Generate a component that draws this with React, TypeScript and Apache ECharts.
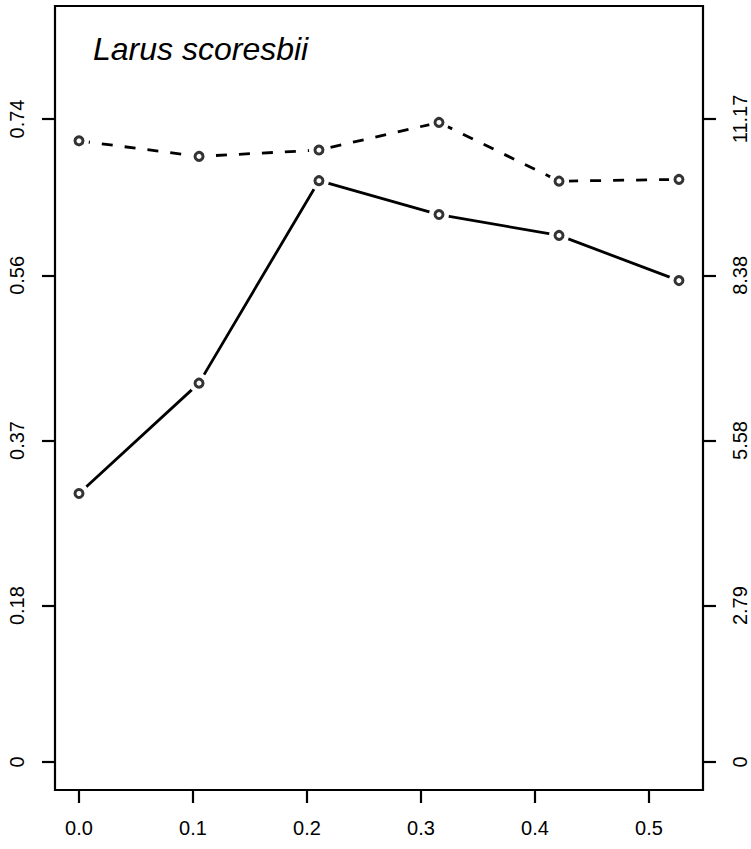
import React, { useEffect, useRef } from "react";
import * as echarts from "echarts";

const xValues = [0, 0.1053, 0.2105, 0.3158, 0.4211, 0.5263];
const solidValues = [0.309, 0.436, 0.669, 0.63, 0.606, 0.554];
const dashedValues = [10.79, 10.52, 10.63, 11.11, 10.09, 10.12];
const xTickValues = [0, 0.1, 0.2, 0.3, 0.4, 0.5];
const leftTickValues = [0, 0.18, 0.37, 0.56, 0.74];
const leftTickLabels = ["0", "0.18", "0.37", "0.56", "0.74"];
const rightTickLabels = ["0", "2.79", "5.58", "8.38", "11.17"];
const titleText = "Larus scoresbii";

const FONT = "Liberation Sans, Arial, Helvetica, sans-serif";
const K = 11.17 / 0.74;
const Y_MIN = -0.0322;
const Y_MAX = 0.87;
const rightTickValues = leftTickValues.map((v) => v * K);

function nearestLabel(v: number, vals: number[], labels: string[]) {
  let best = 0;
  for (let i = 1; i < vals.length; i++) {
    if (Math.abs(vals[i] - v) < Math.abs(vals[best] - v)) best = i;
  }
  return labels[best];
}

export default function App() {
  const ref = useRef<HTMLDivElement>(null);
  useEffect(() => {
    if (!ref.current) return;
    const chart = echarts.init(ref.current, null, { renderer: "svg" });
    const solidData = xValues.map((x, i) => [x, solidValues[i]]);
    const dashedData = xValues.map((x, i) => [x, dashedValues[i]]);
    const lineCommon = {
      type: "line",
      symbol: "circle",
      symbolSize: 20,
      showSymbol: true,
      itemStyle: { color: "#fff", borderWidth: 0 },
      silent: true,
      z: 2,
    };
    const ringCommon = {
      type: "scatter",
      symbol: "circle",
      symbolSize: 8,
      itemStyle: { color: "#fff", borderColor: "#000", borderWidth: 3 },
      silent: true,
      z: 3,
    };
    chart.setOption({
      animation: false,
      backgroundColor: "#fff",
      title: {
        text: titleText,
        left: 88,
        top: 28,
        textStyle: {
          fontFamily: FONT,
          fontStyle: "italic",
          fontWeight: "normal",
          fontSize: 32,
          color: "#000",
        },
      },
      grid: {
        left: 55,
        top: 6,
        right: 48,
        bottom: 59,
        show: true,
        borderColor: "#000",
        borderWidth: 2.2,
        backgroundColor: "transparent",
      },
      xAxis: {
        type: "value",
        min: -0.02105,
        max: 0.5474,
        axisLine: { show: false, onZero: false },
        splitLine: { show: false },
        axisTick: {
          show: true,
          length: 13,
          customValues: xTickValues,
          lineStyle: { color: "#000", width: 2.2 },
        },
        axisLabel: {
          customValues: xTickValues,
          formatter: (v: number) => v.toFixed(1),
          margin: 28,
          fontSize: 20,
          fontFamily: FONT,
          color: "#000",
        },
      },
      yAxis: [
        {
          type: "value",
          position: "left",
          min: Y_MIN,
          max: Y_MAX,
          axisLine: { show: false, onZero: false },
          splitLine: { show: false },
          axisTick: {
            show: true,
            length: 13,
            customValues: leftTickValues,
            lineStyle: { color: "#000", width: 2.2 },
          },
          axisLabel: {
            customValues: leftTickValues,
            rotate: 90,
            formatter: (v: number) => nearestLabel(v, leftTickValues, leftTickLabels),
            margin: 28,
            fontSize: 20,
            fontFamily: FONT,
            color: "#000",
          },
        },
        {
          type: "value",
          position: "right",
          min: Y_MIN * K,
          max: Y_MAX * K,
          axisLine: { show: false, onZero: false },
          splitLine: { show: false },
          axisTick: {
            show: true,
            length: 13,
            customValues: rightTickValues,
            lineStyle: { color: "#000", width: 2.2 },
          },
          axisLabel: {
            customValues: rightTickValues,
            rotate: 90,
            formatter: (v: number) => nearestLabel(v, rightTickValues, rightTickLabels),
            margin: 27,
            fontSize: 20,
            fontFamily: FONT,
            color: "#000",
          },
        },
      ],
      series: [
        {
          ...lineCommon,
          name: "solid",
          yAxisIndex: 0,
          data: solidData,
          lineStyle: { color: "#000", width: 2.8, type: "solid" },
        },
        {
          ...lineCommon,
          name: "dashed",
          yAxisIndex: 1,
          data: dashedData,
          lineStyle: { color: "#000", width: 2.8, type: [11, 12] },
        },
        { ...ringCommon, name: "solidPts", yAxisIndex: 0, data: solidData },
        { ...ringCommon, name: "dashedPts", yAxisIndex: 1, data: dashedData },
      ],
    });
    return () => chart.dispose();
  }, []);
  return (
    <div
      ref={ref}
      style={{ position: "fixed", left: 0, top: 0, width: 751, height: 849, background: "#fff" }}
    />
  );
}
